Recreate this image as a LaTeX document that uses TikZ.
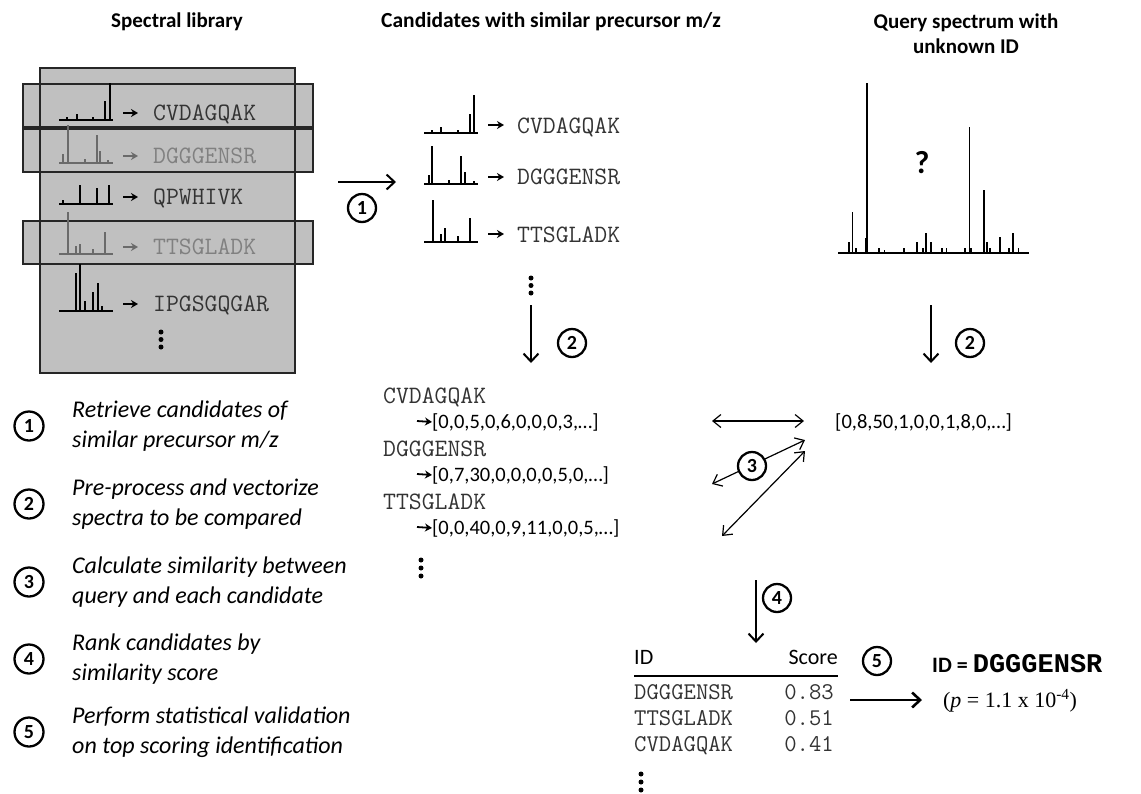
\documentclass[tikz,border=0pt]{standalone}
\usepackage{fontspec}
\setmainfont{Carlito}
\newfontfamily\monof{Liberation Mono}
\newfontfamily\seriff{Liberation Serif}
\usetikzlibrary{arrows.meta}
\definecolor{libgray}{HTML}{C0C0C0}
\definecolor{fadegray}{HTML}{6A6A6A}
\definecolor{seqgray}{HTML}{333333}
\tikzset{
  title/.style={font=\fontsize{21}{25}\selectfont\bfseries, align=center, inner sep=0},
  seq/.style={font=\fontsize{25}{26}\selectfont\ttfamily, text=seqgray, anchor=base west, inner sep=0},
  vec/.style={font=\fontsize{20.5}{24}\selectfont, anchor=base west, inner sep=0},
  stepnum/.style={circle, draw, line width=2.3pt, minimum size=28pt, inner sep=0, fill=white, font=\fontsize{20}{20}\selectfont\bfseries},
  desc/.style={font=\fontsize{24}{30}\selectfont\itshape, align=left, anchor=west, inner sep=0},
  sarrow/.style={-{Stealth[length=7pt,width=8pt]}, line width=1.8pt},
  bigarrow/.style={-{Straight Barb[length=8pt,width=15pt]}, line width=2pt},
  dbl/.style={{Straight Barb[length=8pt,width=13pt]}-{Straight Barb[length=8pt,width=13pt]}, line width=1.2pt},
}
\newcommand\drawspec[4]{%
  \draw[#4, line width=1.8pt] (#1,#2) -- ++(54,0);
  \foreach \o/\h in {#3} \draw[#4, line width=1.5pt] (#1+\o,#2) -- ++(0,-\h);}
\newcommand\vdotsat[3]{%
  \foreach \k in {0,1,2} \fill (#1,#2+\k*#3) circle (2.5);}
\begin{document}
\begin{tikzpicture}[x=1pt,y=-1pt]
\useasboundingbox (0,0) rectangle (1141,793);

% titles
\node[title] (t1) at (177,22) {Spectral library};
\node[title, font=\fontsize{21.5}{25}\selectfont\bfseries] (t2) at (551,22) {Candidates with similar precursor m/z};
\node[title] (t3) at (966,34) {Query spectrum with\\unknown ID};

% library box
\fill[libgray] (40,68) rectangle (295,373);
\filldraw[fill=libgray, draw=black!85, line width=1.5pt] (23,84) rectangle (313,127);
\filldraw[fill=libgray, draw=black!85, line width=1.5pt] (23,129) rectangle (313,172);
\filldraw[fill=libgray, draw=black!85, line width=1.5pt] (23,221) rectangle (313,264);
\draw[black!85, line width=1.8pt] (40,68) rectangle (295,373);

% library spectra
\drawspec{59}{120}{8/3,18/6,34/3,46/19,51/37}{black}
\drawspec{59}{163}{4/9,9/38,26/4,38/28,41/12,49/3}{fadegray}
\drawspec{59}{204}{4/4,21/19,38/16,50/19}{black}
\drawspec{59}{254}{9/42,17/8,21/10,34/5,46/22}{fadegray}
\drawspec{59}{311}{17/38,21/47,26/10,34/19,39/28,43/5}{black}

\node[seq] (L1) at (153,120) {CVDAGQAK};
\node[seq, text=fadegray!85] (L2) at (153,163) {DGGGENSR};
\node[seq] (L3) at (153,204) {QPWHIVK};
\node[seq, text=fadegray!85] (L4) at (153,254) {TTSGLADK};
\node[seq] (L5) at (153,311) {IPGSGQGAR};
\coordinate (L1a) at (123,113);
\coordinate (L2a) at (123,156);
\coordinate (L3a) at (123,197);
\coordinate (L4a) at (123,247);
\coordinate (L5a) at (123,304);
\draw[sarrow] (L1a) -- ++(15,0);
\draw[sarrow, fadegray] (L2a) -- ++(15,0);
\draw[sarrow] (L3a) -- ++(15,0);
\draw[sarrow, fadegray] (L4a) -- ++(15,0);
\draw[sarrow] (L5a) -- ++(15,0);
\vdotsat{161}{332}{7.5}

% step 1 arrow
\coordinate (a1s) at (338,182);
\coordinate (a1e) at (396,182);
\draw[bigarrow] (a1s) -- (a1e);
\node[stepnum] (s1) at (362,208) {1};

% candidates
\drawspec{424}{133}{8/3,17/6,34/3,46/19,50/38}{black}
\drawspec{424}{184}{5/9,8/38,25/4,37/28,41/12,50/3}{black}
\drawspec{424}{242}{9/42,17/8,21/14,34/6,46/24}{black}
\node[seq] (C1) at (517,133) {CVDAGQAK};
\node[seq] (C2) at (517,184) {DGGGENSR};
\node[seq] (C3) at (517,242) {TTSGLADK};
\coordinate (C1a) at (488,125);
\coordinate (C2a) at (488,177);
\coordinate (C3a) at (488,234);
\draw[sarrow] (C1a) -- ++(16,0);
\draw[sarrow] (C2a) -- ++(16,0);
\draw[sarrow] (C3a) -- ++(16,0);
\vdotsat{531}{278}{7.5}

% query spectrum
\draw[line width=2.2pt] (838,253) -- (1029,253);
\foreach \px/\py in {849/11,852.3/41,856/5,866/15,867/170,879/5,884.3/3,903.7/5,917/11,922.7/5,925.7/20,931/11,941.7/5,946.3/5,965/5,969.3/126,971/5,984/63,986.7/11,990/5,1000/16,1009/5,1013/20,1018.3/5}
  \draw[line width=1.6pt] (\px,253) -- ++(0,-\py);
\node[font=\fontsize{32}{32}\selectfont\bfseries] (qm) at (922,163) {?};

% step 2 arrows
\coordinate (a2ls) at (531,305);
\coordinate (a2le) at (531,363);
\draw[bigarrow] (a2ls) -- (a2le);
\node[stepnum] (s2a) at (572,343) {2};
\coordinate (a2rs) at (931,305);
\coordinate (a2re) at (931,363);
\draw[bigarrow] (a2rs) -- (a2re);
\node[stepnum] (s2b) at (970,343) {2};

% vectors
\node[seq] (V1s) at (383,403) {CVDAGQAK};
\node[vec] (V1) at (432,428) {[0,0,5,0,6,0,0,0,3,…]};
\node[seq] (V2s) at (383,456) {DGGGENSR};
\node[vec] (V2) at (432,481) {[0,7,30,0,0,0,0,5,0,…]};
\node[seq] (V3s) at (383,509) {TTSGLADK};
\node[vec] (V3) at (432,534) {[0,0,40,0,9,11,0,0,5,…]};
\coordinate (V1a) at (417,421);
\coordinate (V2a) at (417,474);
\coordinate (V3a) at (417,527);
\draw[sarrow] (V1a) -- (V1.west);
\draw[sarrow] (V2a) -- (V2.west);
\draw[sarrow] (V3a) -- (V3.west);
\vdotsat{421}{560}{8}
\node[vec] (Q) at (835,428) {[0,8,50,1,0,0,1,8,0,…]};

% step 3 arrows
\coordinate (d1a) at (712,421);
\coordinate (d1b) at (804,421);
\coordinate (d2a) at (712,484);
\coordinate (d2b) at (805,440);
\coordinate (d3a) at (722,536);
\coordinate (d3b) at (805,451);
\draw[dbl] (d1a) -- (d1b);
\draw[dbl] (d2a) -- (d2b);
\draw[dbl] (d3a) -- (d3b);
\node[stepnum] (s3) at (752,466) {3};

% step 4
\coordinate (a4s) at (756,580);
\coordinate (a4e) at (756,643);
\draw[bigarrow] (a4s) -- (a4e);
\node[stepnum] (s4) at (777,598) {4};

% table
\node[font=\fontsize{22}{24}\selectfont, anchor=base west, inner sep=0] (hid) at (634,664) {ID};
\node[font=\fontsize{22}{24}\selectfont, anchor=base east, inner sep=0] (hsc) at (838,664) {Score};
\draw[line width=1.3pt] (634,676) -- (838,676);
\node[seq, font=\fontsize{24}{26}\selectfont\ttfamily] (r1) at (634,699) {DGGGENSR};
\node[seq, font=\fontsize{24}{26}\selectfont\ttfamily] (r2) at (634,725) {TTSGLADK};
\node[seq, font=\fontsize{24}{26}\selectfont\ttfamily] (r3) at (634,751) {CVDAGQAK};
\node[seq, font=\fontsize{24}{26}\selectfont\ttfamily, anchor=base east] (p1) at (834,699) {0.83};
\node[seq, font=\fontsize{24}{26}\selectfont\ttfamily, anchor=base east] (p2) at (834,725) {0.51};
\node[seq, font=\fontsize{24}{26}\selectfont\ttfamily, anchor=base east] (p3) at (834,751) {0.41};
\vdotsat{641}{774}{8}

% step 5
\coordinate (a5s) at (850,700);
\coordinate (a5e) at (922,700);
\draw[bigarrow, line width=2.6pt] (a5s) -- (a5e);
\node[stepnum] (s5) at (877,661) {5};
\node[anchor=base west, inner sep=0, font=\fontsize{22}{24}\selectfont\bfseries] (res) at (932,672) {ID = {\fontsize{27}{28}\selectfont\monof DGGGENSR}};
\node[anchor=base, inner sep=0, font=\fontsize{22}{24}\selectfont\seriff] (pv) at (1010,707) {(\textit{p} = 1.1 x 10\textsuperscript{-4})};

% left list
\foreach \i/\c/\t in {1/426/{Retrieve candidates of\\similar precursor m/z},
                       2/504/{Pre-process and vectorize\\spectra to be compared},
                       3/582/{Calculate similarity between\\query and each candidate},
                       4/659/{Rank candidates by\\similarity score},
                       5/732/{Perform statistical validation\\on top scoring identification}}{
  \node[stepnum, minimum size=29pt] (n\i) at (29,\c) {\i};
  \node[desc] (d\i) at (72,\c) {\t};
}
\end{tikzpicture}
\end{document}
